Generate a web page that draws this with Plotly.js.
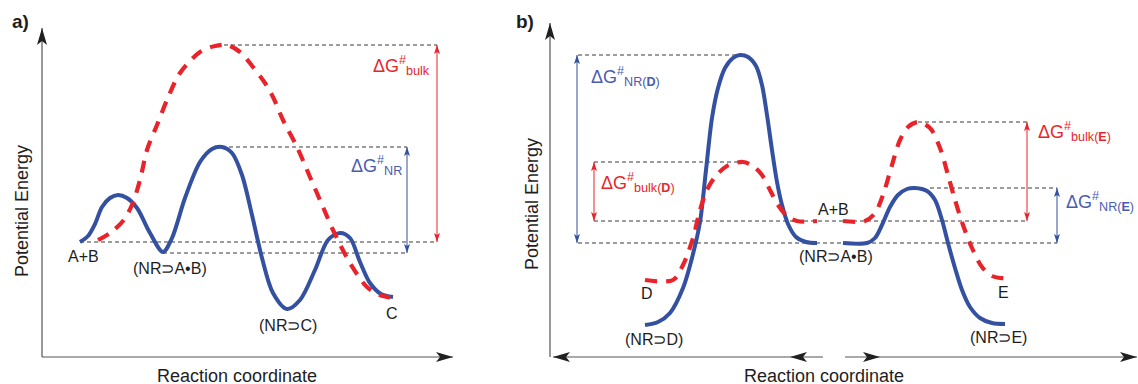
<!DOCTYPE html>
<html><head><meta charset="utf-8">
<script src="https://cdn.plot.ly/plotly-3.0.1.min.js"></script>
<style>html,body{margin:0;padding:0;background:#fff}#chart{width:1138px;height:384px}</style>
</head><body><div id="chart"></div>
<script>
// ---------- Panel a) : reaction coordinate (x) vs potential energy (y), arbitrary units ----------
const aBlueX = [38,46,53,60,68,76,85,95,108,121,130,143,158,170,180,190,200,210,220,231,245,258,273,286,298,308,318,328,339,351];
const aBlueY = [115,121,133,150,159,162,159,149,124,105,119,159,195,208,210,204,182,142,99,64,48,57,87,117,124,119,95,74,63,60];
const aRedX  = [56,68,81,90,98,105,115,125,138,158,173,185,198,211,223,231,241,255,268,281,291,308,325,338,351];
const aRedY  = [117,124,136,152,177,207,232,257,284,305,311,312,305,290,274,260,237,210,180,150,127,94,70,62,59];
// dashed guide levels
const aLevelY  = [312, 210, 115, 104];
const aLevelX0 = [175, 180, 38, 121];
const aLevelX1 = [395, 365, 395, 365];
// barrier arrows (x, low, high, kind)
const aBarX  = [395, 365];
const aBarLo = [115, 104];
const aBarHi = [312, 210];
const aBarKind = ['bulk', 'nr'];
// barrier labels
const aDGText = ['ΔG<sup>#</sup><sub>bulk</sub>', 'ΔG<sup>#</sup><sub>NR</sub>'];
const aDGX = [359, 334];
const aDGY = [292, 192];
const aDGKind = ['bulk', 'nr'];
// state labels
const aLabelText = ['A+B', '(NR⊃A•B)', '(NR⊃C)', 'C'];
const aLabelX = [41, 128, 246, 350];
const aLabelY = [101, 89, 32, 44];

// ---------- Panel b) ----------
const bBlueDX = [95,108,120,133,143,150,156,162,168,175,183,190,198,206,212,217,222,227,232,238,246,256,267];
const bBlueDY = [32,35,44,69,103,135,187,239,269,289,299,302,300,291,272,242,207,175,152,133,120,115,114];
const bRedDX  = [95,123,133,143,150,157,165,177,193,203,212,220,228,237,247,267];
const bRedDY  = [77,77,92,119,147,167,180,191,195,191,182,167,152,141,136,136];
const bRedEX  = [293,315,325,333,342,350,358,368,380,390,398,405,413,422,432,442,450,460];
const bRedEY  = [136,136,144,162,192,217,230,235,229,209,182,157,132,109,90,81,79,79];
const bBlueEX = [293,317,325,332,340,348,357,365,377,385,392,398,405,412,420,430,442,455];
const bBlueEY = [114,114,119,132,150,162,168,169,166,157,137,114,89,67,50,39,34,33];
const bLevelY  = [302, 195, 136, 114, 235, 169];
const bLevelX0 = [28, 44, 44, 28, 368, 380];
const bLevelX1 = [190, 193, 477, 507, 477, 507];
const bBarX  = [27, 44, 477, 507];
const bBarLo = [114, 136, 136, 114];
const bBarHi = [302, 195, 235, 169];
const bBarKind = ['nr', 'bulk', 'bulk', 'nr'];
const bDGText = ['ΔG<sup>#</sup><sub>NR(<b>D</b>)</sub>', 'ΔG<sup>#</sup><sub>bulk(<b>D</b>)</sub>',
                 'ΔG<sup>#</sup><sub>bulk(<b>E</b>)</sub>', 'ΔG<sup>#</sup><sub>NR(<b>E</b>)</sub>'];
const bDGX = [75, 88, 524, 550];
const bDGY = [281, 175, 226, 156];
const bDGKind = ['nr', 'bulk', 'bulk', 'nr'];
const bLabelText = ['A+B', '(NR⊃A•B)', 'D', '(NR⊃D)', 'E', '(NR⊃E)'];
const bLabelX = [283, 286, 97, 104, 453, 448];
const bLabelY = [148, 101, 64, 18, 65, 20];

// ---------- styling ----------
const BLUE = '#3450a0', RED = '#e8232a', BLUE_T = '#4a5cae', RED_T = '#e8262a', GUIDE = '#3a3a3a', INK = '#1e1e1e';
const AXIS = '#555555', HEAD = '#202020';
const FONT = 'Liberation Sans, Arial, Helvetica, sans-serif';
const kindColor = k => k === 'bulk' ? RED : BLUE;
const kindText = k => k === 'bulk' ? RED_T : BLUE_T;

function curve(x, y, xa, ya, color, dashed) {
  return {x, y, xaxis: xa, yaxis: ya, type: 'scatter', mode: 'lines', hoverinfo: 'skip',
    line: {color, width: dashed ? 4.2 : 4, shape: 'spline', smoothing: 0.9, dash: dashed ? '12px,9px' : 'solid'},
    showlegend: false};
}
const traces = [
  curve(aBlueX, aBlueY, 'x', 'y', BLUE, false),
  curve(aRedX, aRedY, 'x', 'y', RED, true),
  curve(bBlueDX, bBlueDY, 'x2', 'y2', BLUE, false),
  curve(bBlueEX, bBlueEY, 'x2', 'y2', BLUE, false),
  curve(bRedDX, bRedDY, 'x2', 'y2', RED, true),
  curve(bRedEX, bRedEY, 'x2', 'y2', RED, true)
];

const shapes = [];
function guides(ys, x0s, x1s, xr, yr) {
  ys.forEach((y, i) => shapes.push({type: 'line', xref: xr, yref: yr, x0: x0s[i], x1: x1s[i], y0: y, y1: y,
    layer: 'below', line: {color: GUIDE, width: 1, dash: '4px,3px'}}));
}
guides(aLevelY, aLevelX0, aLevelX1, 'x', 'y');
guides(bLevelY, bLevelX0, bLevelX1, 'x2', 'y2');

// arrowhead drawn as a fixed-pixel shape anchored at its tip
function head(xr, yr, x, y, dir, len, half, notch, color) {
  let p;
  const b = len - notch;
  if (dir === 'up')    p = `M0,0 L${-half},${-len} L0,${-b} L${half},${-len} Z`;
  if (dir === 'down')  p = `M0,0 L${-half},${len} L0,${b} L${half},${len} Z`;
  if (dir === 'right') p = `M0,0 L${-len},${half} L${-b},0 L${-len},${-half} Z`;
  if (dir === 'left')  p = `M0,0 L${len},${half} L${b},0 L${len},${-half} Z`;
  shapes.push({type: 'path', xref: xr, yref: yr, xsizemode: 'pixel', ysizemode: 'pixel',
    xanchor: x, yanchor: y, path: p, fillcolor: color, line: {width: 0}});
}
function seg(xr, yr, x0, y0, x1, y1, color, width) {
  shapes.push({type: 'line', xref: xr, yref: yr, x0, y0, x1, y1, line: {color, width}});
}

function barArrows(xs, lo, hi, kinds, xr, yr) {
  xs.forEach((x, i) => {
    const c = kindColor(kinds[i]);
    seg(xr, yr, x, lo[i], x, hi[i], c, 1);
    head(xr, yr, x, hi[i], 'up', 9, 3, 2, c);
    head(xr, yr, x, lo[i], 'down', 9, 3, 2, c);
  });
}
barArrows(aBarX, aBarLo, aBarHi, aBarKind, 'x', 'y');
barArrows(bBarX, bBarLo, bBarHi, bBarKind, 'x2', 'y2');

const ann = [];
function dgLabels(t, xs, ys, kinds, xr, yr) {
  t.forEach((s, i) => ann.push({xref: xr, yref: yr, x: xs[i], y: ys[i], text: s, showarrow: false,
    font: {family: FONT, size: 18, color: kindText(kinds[i])}, xanchor: 'center', yanchor: 'middle'}));
}
dgLabels(aDGText, aDGX, aDGY, aDGKind, 'x', 'y');
dgLabels(bDGText, bDGX, bDGY, bDGKind, 'x2', 'y2');

function stateLabels(t, xs, ys, xr, yr) {
  t.forEach((s, i) => ann.push({xref: xr, yref: yr, x: xs[i], y: ys[i], text: s, showarrow: false,
    font: {family: FONT, size: 16, color: INK}, xanchor: 'center', yanchor: 'middle'}));
}
stateLabels(aLabelText, aLabelX, aLabelY, 'x', 'y');
stateLabels(bLabelText, bLabelX, bLabelY, 'x2', 'y2');

// coordinate axes with arrowheads
seg('x', 'y', 0, 0, 0, 329, AXIS, 1.2);
head('x', 'y', 0, 329, 'up', 17, 5, 4, HEAD);
seg('x', 'y', 0, 0, 411, 0, AXIS, 1.2);
head('x', 'y', 411, 0, 'right', 17, 5, 4, HEAD);
seg('x2', 'y2', 0, 0, 0, 334, AXIS, 1.2);
head('x2', 'y2', 0, 334, 'up', 17, 5, 4, HEAD);
seg('x2', 'y2', 3, 0, 273, 0, AXIS, 1.2);
head('x2', 'y2', 3, 0, 'left', 17, 5, 4, HEAD);
head('x2', 'y2', 240, 0, 'left', 17, 5, 4, HEAD);
seg('x2', 'y2', 295, 0, 587, 0, AXIS, 1.2);
head('x2', 'y2', 587, 0, 'right', 17, 5, 4, HEAD);
head('x2', 'y2', 330, 0, 'right', 17, 5, 4, HEAD);

// panel letters and axis titles
const W = 1138, H = 384;
function paperText(text, px, py, size, opts) {
  ann.push(Object.assign({xref: 'paper', yref: 'paper', x: px / W, y: 1 - py / H, text, showarrow: false,
    font: {family: FONT, size, color: INK}, xanchor: 'center', yanchor: 'middle'}, opts || {}));
}
paperText('<b>a)</b>', 20, 22, 19);
paperText('<b>b)</b>', 525, 22, 19);
paperText('Potential Energy', 22, 211, 18, {textangle: -90});
paperText('Potential Energy', 532, 204, 18, {textangle: -90});
paperText('Reaction coordinate', 237, 364, 18, {yanchor: 'top'});
paperText('Reaction coordinate', 824, 364, 18, {yanchor: 'top'});

// plot areas padded so that the axis lines / arrowheads at 0 are not clipped
const yDom = [(H - 367) / H, (H - 20) / H];
const hidden = {showgrid: false, zeroline: false, showticklabels: false, showline: false, ticks: '', fixedrange: true};
const layout = {
  width: W, height: H, margin: {l: 0, r: 0, t: 0, b: 0},
  paper_bgcolor: '#fff', plot_bgcolor: 'rgba(0,0,0,0)', showlegend: false,
  xaxis: Object.assign({domain: [30 / W, 460 / W], range: [-12, 418], anchor: 'y'}, hidden),
  yaxis: Object.assign({domain: yDom, range: [-10, 337], anchor: 'x'}, hidden),
  xaxis2: Object.assign({domain: [538 / W, 1], range: [-12, 588], anchor: 'y2'}, hidden),
  yaxis2: Object.assign({domain: yDom, range: [-10, 337], anchor: 'x2'}, hidden),
  shapes, annotations: ann, font: {family: FONT}
};
Plotly.newPlot('chart', traces, layout, {displayModeBar: false, staticPlot: true});
</script></body></html>
